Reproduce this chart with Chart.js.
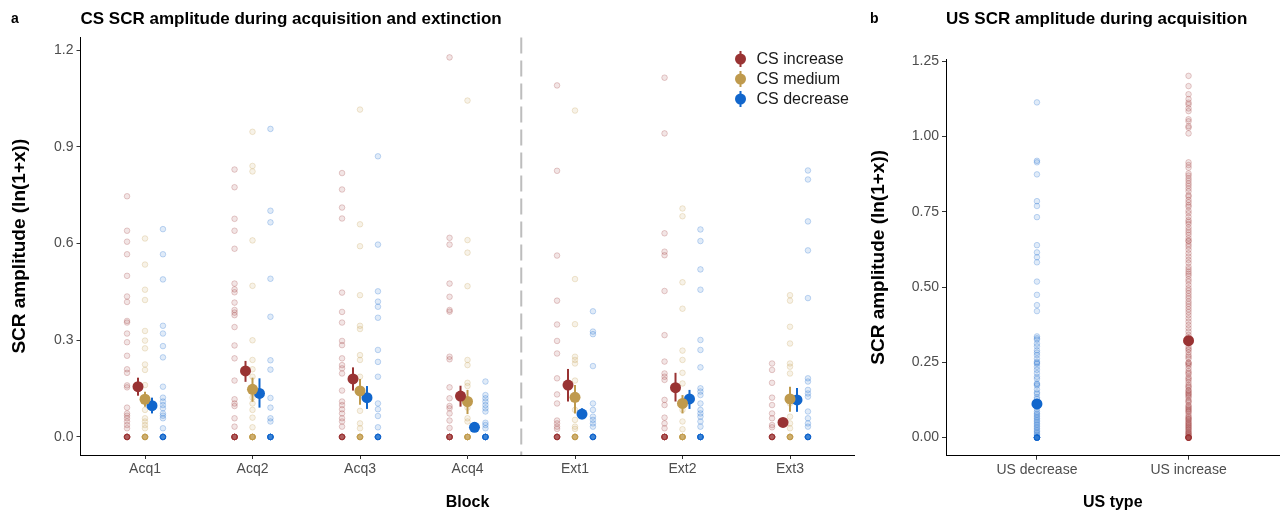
<!DOCTYPE html>
<html>
<head>
<meta charset="utf-8">
<script src="https://cdn.jsdelivr.net/npm/chart.js@4.4.1/dist/chart.umd.min.js"></script>
<style>
  body { margin: 0; background: #fff; }
  #wrap { position: relative; width: 1285px; height: 514px; }
  canvas { position: absolute; top: 0; }
</style>
</head>
<body>
<div id="wrap">
  <canvas id="panelA" width="860" height="514" style="left:0"></canvas>
  <canvas id="panelB" width="425" height="514" style="left:860px"></canvas>
</div>
<script>
// ---------------- data: panel a ----------------
const blocks = ["Acq1", "Acq2", "Acq3", "Acq4", "Ext1", "Ext2", "Ext3"];
const csLabels = ["CS increase", "CS medium", "CS decrease"];
const yTicksA = [0, 0.3, 0.6, 0.9, 1.2];

// single-subject values per block
const incRaw = [
  [0.747,0.640,0.606,0.567,0.500,0.436,0.419,0.360,0.355,0.321,0.294,0.252,0.210,0.199,0.160,0.154,0.091,0.073,0.066,0.058,0.048,0.037,0.027,0,0,0,0,0,0,0,0,0,0,0,0],
  [0.830,0.775,0.677,0.640,0.584,0.476,0.458,0.449,0.417,0.394,0.386,0.378,0.341,0.284,0.244,0.175,0.117,0.104,0.096,0.058,0.032,0,0,0,0,0,0,0,0,0,0,0,0],
  [0.819,0.768,0.712,0.678,0.448,0.388,0.355,0.298,0.285,0.244,0.223,0.213,0.197,0.144,0.110,0.099,0.086,0.073,0.058,0.048,0.032,0,0,0,0,0,0,0,0,0,0,0,0],
  [1.178,0.618,0.597,0.476,0.435,0.394,0.389,0.249,0.241,0.154,0.120,0.096,0.089,0.073,0.051,0.028,0,0,0,0,0,0,0,0,0,0,0,0],
  [1.091,0.826,0.563,0.423,0.349,0.298,0.259,0.182,0.132,0.104,0.051,0.042,0.032,0.025,0,0,0,0,0,0,0,0,0,0,0,0],
  [1.115,0.942,0.632,0.575,0.564,0.453,0.316,0.234,0.197,0.187,0.177,0.115,0.099,0.060,0.042,0.027,0,0,0,0,0,0,0,0,0,0,0,0],
  [0.228,0.208,0.168,0.122,0.099,0.073,0.058,0.037,0.030,0,0,0,0,0,0,0,0,0,0,0,0]
];
const medRaw = [
  [0.616,0.535,0.457,0.425,0.329,0.299,0.275,0.225,0.208,0.161,0.115,0.084,0.058,0.048,0.037,0.027,0,0,0,0,0,0,0,0,0,0,0,0],
  [0.947,0.841,0.824,0.610,0.469,0.300,0.239,0.210,0.187,0.146,0.122,0.104,0.084,0.060,0.030,0,0,0,0,0,0,0,0,0,0,0,0],
  [1.016,0.660,0.592,0.440,0.345,0.335,0.254,0.239,0.187,0.146,0.081,0.042,0.027,0,0,0,0,0,0,0,0,0,0,0,0],
  [1.044,0.611,0.572,0.468,0.239,0.223,0.168,0.158,0.091,0.058,0.048,0,0,0,0,0,0,0,0,0,0,0,0],
  [1.013,0.490,0.350,0.249,0.239,0.228,0.175,0.084,0.053,0.032,0.025,0,0,0,0,0,0,0,0,0,0,0,0],
  [0.709,0.685,0.480,0.398,0.268,0.239,0.199,0.166,0.084,0.048,0.024,0,0,0,0,0,0,0,0,0,0,0,0],
  [0.440,0.423,0.342,0.290,0.228,0.218,0.197,0.104,0.063,0.042,0.027,0,0,0,0,0,0,0,0,0,0,0,0]
];
const decRaw = [
  [0.645,0.567,0.489,0.345,0.321,0.282,0.247,0.156,0.122,0.110,0.099,0.089,0.073,0.066,0.058,0.027,0,0,0,0,0,0,0,0,0,0,0,0],
  [0.956,0.702,0.666,0.491,0.373,0.238,0.209,0.121,0.091,0.058,0.048,0,0,0,0,0,0,0,0,0,0,0,0],
  [0.871,0.597,0.452,0.420,0.404,0.370,0.270,0.233,0.187,0.104,0.086,0.065,0.030,0,0,0,0,0,0,0,0,0,0,0,0],
  [0.172,0.130,0.120,0.110,0.099,0.089,0.079,0.044,0.037,0.027,0,0,0,0,0,0,0,0,0,0,0,0],
  [0.390,0.327,0.319,0.220,0.104,0.084,0.063,0.053,0.042,0.032,0,0,0,0,0,0,0,0,0,0,0,0],
  [0.644,0.608,0.520,0.457,0.301,0.270,0.216,0.151,0.141,0.130,0.104,0.084,0.073,0.063,0.048,0.032,0,0,0,0,0,0,0,0,0,0,0,0],
  [0.827,0.799,0.669,0.579,0.431,0.182,0.172,0.146,0.135,0.125,0.079,0.058,0.042,0.032,0,0,0,0,0,0,0,0,0,0,0,0]
];

// means with error bar limits
const incMean = [0.156, 0.205, 0.180, 0.127, 0.161, 0.153, 0.045];
const incLo   = [0.128, 0.171, 0.144, 0.094, 0.110, 0.110, 0.036];
const incHi   = [0.184, 0.236, 0.216, 0.159, 0.211, 0.199, 0.054];
const medMean = [0.117, 0.148, 0.143, 0.110, 0.123, 0.104, 0.118];
const medLo   = [0.094, 0.109, 0.100, 0.071, 0.073, 0.073, 0.078];
const medHi   = [0.140, 0.184, 0.180, 0.146, 0.161, 0.130, 0.156];
const decMean = [0.097, 0.135, 0.122, 0.030, 0.071, 0.118, 0.115];
const decLo   = [0.073, 0.091, 0.087, 0.022, 0.055, 0.087, 0.078];
const decHi   = [0.122, 0.182, 0.158, 0.038, 0.089, 0.146, 0.152];

// ---------------- data: panel b ----------------
const usTypes = ["US decrease", "US increase"];
const yTicksB = [0, 0.25, 0.5, 0.75, 1, 1.25];
const usDecRaw = [1.113,0.919,0.914,0.874,0.785,0.769,0.732,0.639,0.615,0.599,0.582,0.518,0.474,0.440,0.420,
  0.336,0.330,0.325,0.312,0.303,0.290,0.282,0.274,0.262,0.252,0.248,0.245,0.235,0.225,0.214,0.202,0.195,0.180,0.177,0.173,
  0.160,0.150,0.145,0.134,0.128,0.119,0.110,0.103,0.095,0.086,0.080,0.075,0.069,0.064,0.058,0.053,0.047,0.042,0.036,0.031,
  0.025,0.020,0.015,0.010,0.005,0,0,0,0,0,0,0,0,0,0,0,0];
const usIncRaw = [1.201,1.167,1.140,1.124,1.112,1.106,1.093,1.084,1.057,1.050,1.034,1.029,1.010,
  0.914,0.905,0.896,0.877,0.870,0.861,0.853,0.844,0.836,0.827,0.818,0.805,0.800,0.789,0.781,0.772,0.766,0.753,0.745,0.733,
  0.722,0.716,0.709,0.698,0.689,0.681,0.673,0.662,0.654,0.652,0.642,0.634,0.624,0.612,0.601,0.590,0.580,0.567,0.559,0.551,
  0.544,0.537,0.526,0.518,0.507,0.496,0.488,0.479,0.470,0.462,0.452,0.444,0.435,0.426,0.417,0.407,0.396,0.385,0.374,0.363,
  0.352,0.341,0.333,0.325,0.313,0.302,0.291,0.283,0.274,0.262,0.249,0.248,0.239,0.230,0.221,0.211,0.201,0.191,0.183,0.175,
  0.166,0.158,0.155,0.150,0.142,0.133,0.125,0.117,0.108,0.100,0.092,0.085,0.079,0.072,0.064,0.058,0.053,0.046,0.039,0.032,
  0.025,0.020,0.014,0.008,0.295,0.268,0.244,0.215,0.196,0.170,0.146,0.138,0.121,0.104,0.096,0.088,0.068,0.061,0.049,0.042,
  0.035,0.028,0.017,0.011,0.005,0,0,0,0,0,0,0,0,0,0,0,0];
const usMean = [0.112, 0.322];
const usLo   = [0.100, 0.307];
const usHi   = [0.124, 0.337];

// ---------------- styling ----------------
const RED = "#993333", GOLD = "#BF9A4D", BLUE = "#1166CC";
const TICK_GREY = "#4D4D4D";
Chart.defaults.font.family = "'Liberation Sans', Arial, sans-serif";

function fade(hex, a) {
  const n = parseInt(hex.slice(1), 16);
  return `rgba(${(n >> 16) & 255},${(n >> 8) & 255},${n & 255},${a})`;
}

function rawPoints(cols, shift) {
  const pts = [];
  cols.forEach((vals, i) => vals.forEach(v => pts.push({ x: i + 1 + shift, y: v })));
  return pts;
}
function meanPoints(vals, shift) {
  return vals.map((v, i) => ({ x: i + 1 + shift, y: v }));
}

function rawSet(label, cols, shift, color) {
  return {
    label: label, data: rawPoints(cols, shift), order: 1,
    pointRadius: 2.8, pointHoverRadius: 2.8, borderWidth: 1,
    backgroundColor: fade(color, 0.13), borderColor: fade(color, 0.24)
  };
}
function meanSet(label, vals, lo, hi, shift, color) {
  return {
    label: label, data: meanPoints(vals, shift), order: 0,
    errLo: lo, errHi: hi, isMean: true,
    pointRadius: 5.5, pointHoverRadius: 5.5, borderWidth: 0,
    backgroundColor: color, borderColor: color
  };
}

// error bars under the mean dots
const errorBars = {
  id: "errorBars",
  beforeDatasetDraw(chart, args) {
    const ds = chart.data.datasets[args.index];
    if (!ds.errLo) return;
    const { ctx, scales: { x, y } } = chart;
    ctx.save();
    ctx.strokeStyle = ds.borderColor;
    ctx.lineWidth = 2;
    ds.data.forEach((p, i) => {
      if (p.y === null) return;
      const px = x.getPixelForValue(p.x);
      ctx.beginPath();
      ctx.moveTo(px, y.getPixelForValue(ds.errLo[i]));
      ctx.lineTo(px, y.getPixelForValue(ds.errHi[i]));
      ctx.stroke();
    });
    ctx.restore();
  }
};

// dashed line between acquisition and extinction
const divider = {
  id: "divider",
  beforeDatasetsDraw(chart) {
    const { ctx, chartArea, scales: { x } } = chart;
    const px = x.getPixelForValue(4.5);
    ctx.save();
    ctx.strokeStyle = "#BDBDBD";
    ctx.lineWidth = 2;
    ctx.setLineDash([16, 7]);
    ctx.beginPath();
    ctx.moveTo(px, chartArea.top);
    ctx.lineTo(px, chartArea.bottom);
    ctx.stroke();
    ctx.restore();
  }
};

// panel letter
function panelLetter(letter, px) {
  return {
    id: "letter" + letter,
    afterDraw(chart) {
      const ctx = chart.ctx;
      ctx.save();
      ctx.font = "bold 14px 'Liberation Sans', Arial, sans-serif";
      ctx.fillStyle = "#000";
      ctx.textBaseline = "middle";
      ctx.fillText(letter, px, 19);
      ctx.restore();
    }
  };
}

// legend with point-range keys
const rangeLegend = {
  id: "rangeLegend",
  afterDraw(chart) {
    const { ctx, chartArea } = chart;
    const means = chart.data.datasets.filter(d => d.isMean);
    ctx.save();
    ctx.font = "16px 'Liberation Sans', Arial, sans-serif";
    ctx.textBaseline = "middle";
    means.forEach((d, i) => {
      const cx = chartArea.right - 114, cy = 59 + i * 20;
      ctx.strokeStyle = d.borderColor;
      ctx.fillStyle = d.backgroundColor;
      ctx.lineWidth = 2;
      ctx.beginPath(); ctx.moveTo(cx, cy - 8); ctx.lineTo(cx, cy + 8); ctx.stroke();
      ctx.beginPath(); ctx.arc(cx, cy, 5.5, 0, Math.PI * 2); ctx.fill();
      ctx.fillStyle = "#1A1A1A";
      ctx.fillText(d.label, cx + 16, cy + 1);
    });
    ctx.restore();
  }
};

function axisX(min, max, cats, height, title) {
  return {
    type: "linear", min: min, max: max,
    afterBuildTicks: s => { s.ticks = cats.map((c, i) => ({ value: i + 1 })); },
    afterFit: s => { s.height = height; },
    ticks: { callback: v => cats[Math.round(v) - 1], color: TICK_GREY, font: { size: 14 }, padding: 2, maxRotation: 0, autoSkip: false },
    grid: { drawOnChartArea: false, tickLength: 4, color: "#333" },
    border: { color: "#000", width: 1 },
    title: { display: true, text: title, color: "#000", font: { size: 16, weight: "bold" }, padding: { top: 0, bottom: 2 } }
  };
}
function axisY(min, max, ticksArr, digits, width, padTop) {
  return {
    min: min, max: max,
    afterBuildTicks: s => { s.ticks = ticksArr.map(v => ({ value: v })); },
    afterFit: s => { s.width = width; },
    ticks: { callback: v => v.toFixed(digits), color: TICK_GREY, font: { size: 14 }, padding: 3 },
    grid: { drawOnChartArea: false, tickLength: 4, color: "#333" },
    border: { color: "#000", width: 1 },
    title: { display: true, text: "SCR amplitude (ln(1+x))", color: "#000", font: { size: 19, weight: "bold" }, padding: { top: padTop, bottom: 0 } }
  };
}

// ---------------- panel a ----------------
new Chart(document.getElementById("panelA"), {
  type: "scatter",
  data: {
    datasets: [
      meanSet(csLabels[0], incMean, incLo, incHi, -0.065, RED),
      meanSet(csLabels[1], medMean, medLo, medHi, 0, GOLD),
      meanSet(csLabels[2], decMean, decLo, decHi, 0.065, BLUE),
      rawSet(csLabels[0], incRaw, -0.167, RED),
      rawSet(csLabels[1], medRaw, 0, GOLD),
      rawSet(csLabels[2], decRaw, 0.167, BLUE)
    ]
  },
  options: {
    responsive: false,
    animation: false,
    layout: { padding: { left: 0, right: 5, top: 0, bottom: 0 } },
    plugins: {
      legend: { display: false },
      tooltip: { enabled: false },
      title: {
        display: true, text: "CS SCR amplitude during acquisition and extinction",
        align: "start", fullSize: false, color: "#000",
        font: { size: 17, weight: "bold" }, padding: { top: 9, bottom: 8 }
      }
    },
    scales: {
      x: axisX(0.4, 7.6, blocks, 59, "Block"),
      y: axisY(-0.056, 1.24, yTicksA, 1, 80.5, 8)
    }
  },
  plugins: [divider, errorBars, rangeLegend, panelLetter("a", 11)]
});

// ---------------- panel b ----------------
new Chart(document.getElementById("panelB"), {
  type: "scatter",
  data: {
    datasets: [
      meanSet(usTypes[0], [usMean[0], null], [usLo[0], null], [usHi[0], null], 0, BLUE),
      meanSet(usTypes[1], [null, usMean[1]], [null, usLo[1]], [null, usHi[1]], 0, RED),
      rawSet(usTypes[0], [usDecRaw, []], 0, BLUE),
      rawSet(usTypes[1], [[], usIncRaw], 0, RED)
    ]
  },
  options: {
    responsive: false,
    animation: false,
    layout: { padding: { left: 0, right: 1, top: 0, bottom: 0 } },
    plugins: {
      legend: { display: false },
      tooltip: { enabled: false },
      title: {
        display: true, text: "US SCR amplitude during acquisition",
        align: "start", fullSize: false, color: "#000",
        font: { size: 17, weight: "bold" }, padding: { top: 9, bottom: 29.6 }
      }
    },
    scales: {
      x: axisX(0.4, 2.6, usTypes, 58.3, "US type"),
      y: axisY(-0.06, 1.257, yTicksB, 2, 86, 7)
    }
  },
  plugins: [errorBars, panelLetter("b", 10)]
});
</script>
</body>
</html>
